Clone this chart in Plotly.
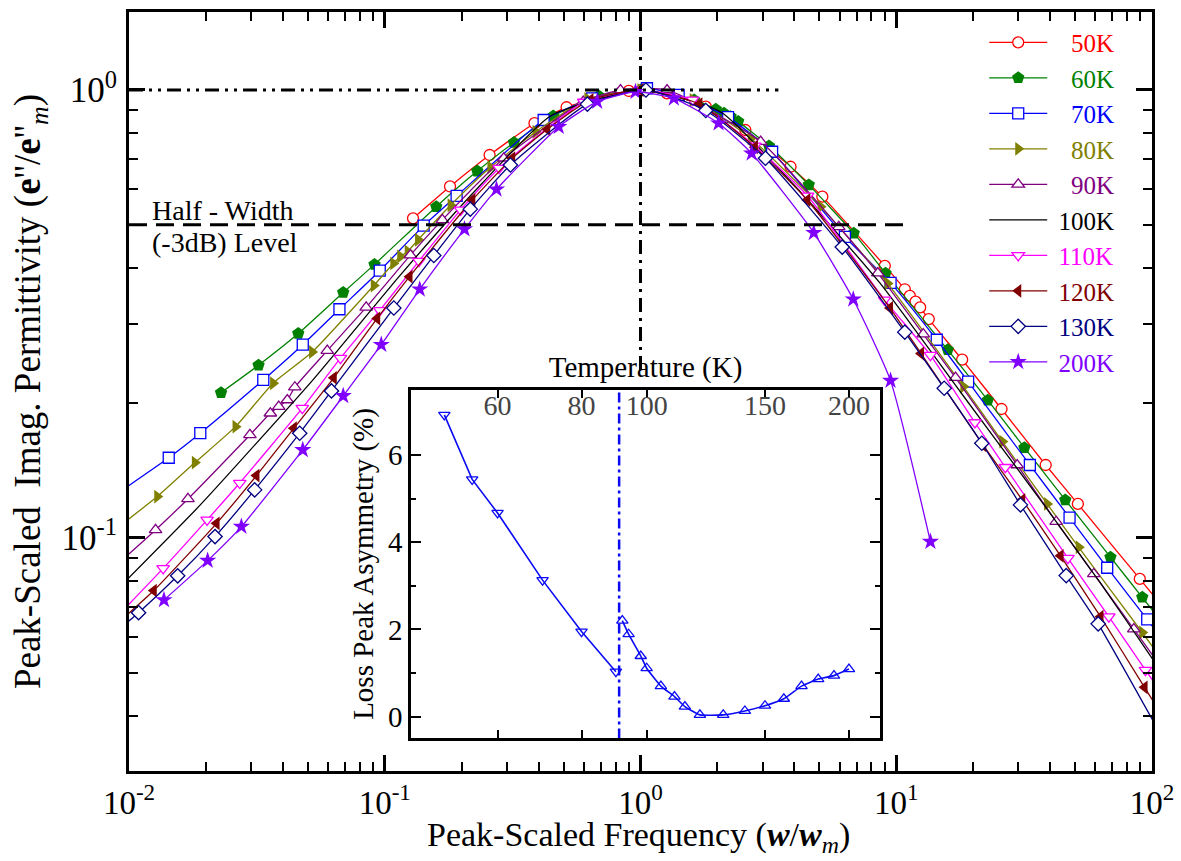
import plotly.graph_objects as go

FONT = "Liberation Serif"

# ---------------- main data (peak-scaled frequency, peak-scaled loss) ----------------
x50 = [0.129, 0.180, 0.257, 0.385, 0.514, 0.90, 1.27, 1.80, 2.57, 3.86, 5.14, 9.02, 10.8, 11.3, 11.9, 12.4, 13.4, 18.1, 25.8, 38.4, 51.3, 89.6, 115]
y50 = [0.517, 0.609, 0.716, 0.843, 0.915, 0.995, 0.983, 0.918, 0.814, 0.674, 0.578, 0.405, 0.359, 0.347, 0.337, 0.327, 0.308, 0.250, 0.194, 0.1455, 0.1191, 0.0810, 0.0682]

x60 = [0.0229, 0.0321, 0.0459, 0.0688, 0.0912, 0.159, 0.230, 0.320, 0.456, 0.687, 1.0, 1.62, 1.97, 2.12, 2.25, 2.41, 3.18, 4.55, 6.82, 9.08, 15.9, 22.8, 31.7, 45.8, 68.8, 91.6, 118]
y60 = [0.211, 0.243, 0.286, 0.353, 0.408, 0.549, 0.659, 0.763, 0.875, 0.970, 1.0, 0.950, 0.906, 0.887, 0.872, 0.850, 0.750, 0.614, 0.479, 0.390, 0.263, 0.203, 0.159, 0.1216, 0.0906, 0.0737, 0.0614]

x70 = [0.008, 0.0143, 0.0190, 0.0335, 0.0478, 0.0665, 0.0956, 0.142, 0.191, 0.418, 0.647, 1.06, 1.41, 2.2, 3.27, 6.3, 9.50, 14.4, 19.1, 33.3, 47.6, 66.8, 95.8, 118]
y70 = [0.120, 0.151, 0.1713, 0.2253, 0.270, 0.324, 0.395, 0.498, 0.580, 0.857, 0.958, 1.009, 0.975, 0.87, 0.728, 0.47, 0.371, 0.277, 0.2233, 0.1455, 0.1110, 0.0858, 0.0658, 0.0563]

x80 = [0.008, 0.0129, 0.0181, 0.0261, 0.0366, 0.0520, 0.0906, 0.108, 0.115, 0.123, 0.135, 0.181, 0.259, 0.389, 0.62, 1.0, 1.6, 2.7, 5.06, 9.25, 18.3, 26.0, 38.9, 51.7, 91.6, 118]
y80 = [0.100, 0.1237, 0.1473, 0.1772, 0.2215, 0.260, 0.366, 0.410, 0.425, 0.436, 0.463, 0.553, 0.672, 0.807, 0.955, 1.0, 0.95, 0.78, 0.549, 0.370, 0.2177, 0.1641, 0.1191, 0.0953, 0.0615, 0.0505]

x90 = [0.008, 0.0127, 0.0170, 0.0297, 0.0357, 0.0385, 0.0416, 0.0445, 0.0596, 0.0846, 0.126, 0.168, 0.292, 0.597, 0.835, 1.27, 2.95, 5.96, 8.47, 12.75, 17.05, 29.7, 42.2, 59.2, 84.9, 118]
y90 = [0.0822, 0.1042, 0.1222, 0.1698, 0.1898, 0.1964, 0.2032, 0.2170, 0.262, 0.327, 0.428, 0.513, 0.704, 0.942, 1.0, 1.0, 0.767, 0.495, 0.390, 0.285, 0.228, 0.1455, 0.1087, 0.0831, 0.0626, 0.0482]

x100 = [0.008, 0.019, 0.0526, 0.115, 0.216, 0.445, 1.0, 2.06, 4.22, 8.69, 17.8, 36.6, 62.9, 99.5, 118]
y100 = [0.0717, 0.1185, 0.226, 0.386, 0.580, 0.875, 1.0, 0.893, 0.592, 0.369, 0.212, 0.1216, 0.0793, 0.0541, 0.0467]

x110 = [0.008, 0.0136, 0.0202, 0.0271, 0.0476, 0.0671, 0.0956, 0.136, 0.198, 0.280, 0.60, 1.0, 1.6, 2.8, 4.5, 9.0, 13.6, 20.3, 26.7, 46.9, 67.8, 94.3, 118]
y110 = [0.0623, 0.0855, 0.1097, 0.1326, 0.1948, 0.252, 0.322, 0.415, 0.54, 0.669, 0.94, 1.0, 0.95, 0.75, 0.58, 0.34, 0.256, 0.181, 0.1438, 0.0901, 0.0667, 0.0507, 0.0422]

x120 = [0.008, 0.0125, 0.0220, 0.0315, 0.0441, 0.0632, 0.0934, 0.125, 0.220, 0.315, 0.432, 0.637, 1.0, 1.7, 2.8, 4.49, 9.45, 12.5, 21.9, 31.1, 43.9, 62.9, 93.5, 118]
y120 = [0.0607, 0.0763, 0.1078, 0.1378, 0.1757, 0.2277, 0.309, 0.383, 0.568, 0.704, 0.817, 0.950, 1.0, 0.93, 0.745, 0.568, 0.326, 0.258, 0.161, 0.1216, 0.0912, 0.0667, 0.0464, 0.0375]

x130 = [0.008, 0.0109, 0.0155, 0.0217, 0.0310, 0.0465, 0.0619, 0.1085, 0.1555, 0.216, 0.310, 0.62, 1.05, 1.8, 3.08, 6.15, 10.8, 15.4, 21.6, 30.6, 46.2, 61.6, 118]
y130 = [0.0586, 0.0681, 0.0823, 0.1007, 0.1280, 0.1713, 0.2129, 0.326, 0.427, 0.542, 0.680, 0.93, 1.0, 0.90, 0.704, 0.446, 0.288, 0.2159, 0.1627, 0.1185, 0.0824, 0.0643, 0.0333]

x200 = [0.0137, 0.0203, 0.0275, 0.0478, 0.0688, 0.0969, 0.137, 0.205, 0.2735, 0.479, 0.677, 0.956, 1.35, 2.02, 2.72, 4.76, 6.79, 9.50, 13.6]
y200 = [0.0727, 0.0890, 0.1060, 0.1572, 0.2075, 0.270, 0.359, 0.489, 0.600, 0.828, 0.942, 0.991, 0.958, 0.843, 0.722, 0.480, 0.341, 0.2245, 0.0981]

labels = ["50K", "60K", "70K", "80K", "90K", "100K", "110K", "120K", "130K", "200K"]
colors = ["#FF0000", "#008000", "#0000FF", "#808000", "#800080", "#000000",
          "#FF00FF", "#800000", "#000080", "#8000FF"]
symbols = ["circle", "pentagon", "square", "triangle-right", "triangle-up", None,
           "triangle-down", "triangle-left", "diamond", "star"]
hollow = [True, False, True, False, True, None, True, False, True, False]
xs = [x50, x60, x70, x80, x90, x100, x110, x120, x130, x200]
ys = [y50, y60, y70, y80, y90, y100, y110, y120, y130, y200]

# reference lines
unity_x = [0.01, 3.46]
unity_y = [1.0, 1.0]
peak_x = [1.0, 1.0]
peak_y = [0.237, 1.6]
half_x = [0.01, 10.9]
half_y = [0.5, 0.5]

# ---------------- inset data ----------------
T_low = [50, 55, 60, 70, 80, 90]
A_low = [6.92, 5.44, 4.67, 3.13, 1.95, 1.03]
T_high = [92, 94, 98, 100, 105, 110, 114, 120, 130, 140, 150, 160, 170, 180, 190, 200]
A_high = [2.20, 1.89, 1.39, 1.11, 0.70, 0.46, 0.23, 0.04, 0.04, 0.13, 0.25, 0.41, 0.70, 0.86, 0.94, 1.09]
T_transition = 91
inset_blue = "#0A0AF5"

x_tickvals = [0.01, 0.1, 1, 10, 100]
x_ticktext = ["10<sup>-2</sup>", "10<sup>-1</sup>", "10<sup>0</sup>", "10<sup>1</sup>", "10<sup>2</sup>"]
y_tickvals = [0.1, 1]
y_ticktext = ["10<sup>-1</sup>", "10<sup>0</sup>"]
x_minor = [m * d for d in (0.01, 0.1, 1, 10) for m in range(2, 10)]
y_minor = [m * 0.01 for m in range(3, 10)] + [m * 0.1 for m in range(2, 10)]

x_title = "Peak-Scaled Frequency (<b><i>w</i></b>/<b><i>w</i></b><sub><i>m</i></sub>)"

fig = go.Figure()

nb = "&nbsp;"
for lab, c, s, h, xx, yy in zip(labels, colors, symbols, hollow, xs, ys):
    pad = nb * (1 if len(lab) == 4 else 3)
    name = f"<span style='color:{c}'>{pad}{lab}</span>"
    if s is None:
        fig.add_trace(go.Scatter(x=xx, y=yy, mode="lines", name=name,
                                 line=dict(color=c, width=1.3, shape="spline", smoothing=0.5)))
    else:
        if h:
            mk = dict(symbol=s, size=11, color="white", line=dict(color=c, width=1.3))
        else:
            mk = dict(symbol=s, size=13 if s in ("star", "pentagon") else 12, color=c, line=dict(width=0))
        fig.add_trace(go.Scatter(x=xx, y=yy, mode="lines+markers", name=name, marker=mk,
                                 line=dict(color=c, width=1.3, shape="spline", smoothing=0.5)))

fig.add_trace(go.Scatter(x=unity_x, y=unity_y, mode="lines", showlegend=False,
                         line=dict(color="black", width=3, dash="14px,6px,3px,6px,3px,6px")))
fig.add_trace(go.Scatter(x=peak_x, y=peak_y, mode="lines", showlegend=False,
                         line=dict(color="black", width=3, dash="14px,6px,3px,6px")))
fig.add_trace(go.Scatter(x=half_x, y=half_y, mode="lines", showlegend=False,
                         line=dict(color="black", width=3, dash="18px,9px")))

# inset
fig.add_trace(go.Scatter(x=T_low, y=A_low, mode="lines+markers", showlegend=False,
                         xaxis="x2", yaxis="y2",
                         marker=dict(symbol="triangle-down-open", size=10, color=inset_blue, line=dict(width=1.3)),
                         line=dict(color=inset_blue, width=1.6)))
fig.add_trace(go.Scatter(x=T_high, y=A_high, mode="lines+markers", showlegend=False,
                         xaxis="x2", yaxis="y2",
                         marker=dict(symbol="triangle-up-open", size=10, color=inset_blue, line=dict(width=1.3)),
                         line=dict(color=inset_blue, width=1.6, shape="spline", smoothing=0.4)))
fig.add_trace(go.Scatter(x=[T_transition, T_transition], y=[-0.5, 7.5], mode="lines", showlegend=False,
                         xaxis="x2", yaxis="y2",
                         line=dict(color=inset_blue, width=2.5, dash="10px,4px,3px,4px")))

axis_common = dict(showline=True, linecolor="black", mirror="allticks", showgrid=False,
                   zeroline=False, ticks="inside", tickcolor="black", automargin=False)

fig.update_layout(
    width=1181, height=861,
    margin=dict(l=129, r=29, t=12, b=90),
    paper_bgcolor="white", plot_bgcolor="white",
    font=dict(family=FONT, color="black"),
    xaxis=dict(type="log", range=[-2, 2], domain=[0, 1], linewidth=3,
               tickvals=x_tickvals, ticktext=x_ticktext, ticklen=16, tickwidth=2.5,
               tickfont=dict(size=33, family=FONT), ticklabelstandoff=0,
               minor=dict(tickvals=x_minor, ticks="inside", ticklen=9, tickwidth=2, tickcolor="black"),
               **axis_common),
    yaxis=dict(type="log", range=[-1.5203, 0.1741], domain=[0, 1], linewidth=3,
               tickvals=y_tickvals, ticktext=y_ticktext, ticklen=16, tickwidth=2.5,
               tickfont=dict(size=35, family=FONT), ticklabelstandoff=2,
               minor=dict(tickvals=y_minor, ticks="inside", ticklen=9, tickwidth=2, tickcolor="black"),
               title=dict(text="Peak-Scaled  Imag. Permittivity (<b>e</b>''/<b>e</b>''<sub><i>m</i></sub>)",
                          font=dict(size=37, family=FONT), standoff=10),
               **axis_common),
    xaxis2=dict(type="log", range=[1.6494, 2.3472], domain=[0.2757, 0.7341], anchor="y2", side="top",
                linewidth=2.5, tickvals=[60, 80, 100, 150, 200], ticklen=8, tickwidth=2,
                ticklabelposition="inside", tickfont=dict(size=28, family=FONT),
                title=dict(text="Temperature (K)", font=dict(size=29, family=FONT), standoff=4),
                **axis_common),
    yaxis2=dict(range=[-0.49, 7.49], domain=[0.0435, 0.502], anchor="x2",
                linewidth=2.5, tickvals=[0, 2, 4, 6], ticklen=10, tickwidth=2,
                tickfont=dict(size=29, family=FONT),
                minor=dict(tickvals=[1, 3, 5, 7], ticks="inside", ticklen=5, tickwidth=2, tickcolor="black"),
                title=dict(text="Loss Peak Asymmetry (%)", font=dict(size=29, family=FONT), standoff=6),
                **axis_common),
    legend=dict(x=0.836, y=0.99, xanchor="left", yanchor="top", bgcolor="rgba(0,0,0,0)",
                font=dict(size=25, family=FONT), tracegroupgap=0, itemwidth=58),
    annotations=[
        dict(text=x_title, xref="paper", yref="paper", x=0.4985, y=-0.1172,
             xanchor="center", yanchor="bottom", showarrow=False, font=dict(size=34, family=FONT)),
        dict(text="Half - Width", xref="paper", yref="paper", x=0.0205, y=0.738,
             xanchor="left", yanchor="middle", showarrow=False, font=dict(size=28, family=FONT)),
        dict(text="(-3dB) Level", xref="paper", yref="paper", x=0.0205, y=0.6957,
             xanchor="left", yanchor="middle", showarrow=False, font=dict(size=28, family=FONT)),
    ],
)

fig.write_html("out.html")
